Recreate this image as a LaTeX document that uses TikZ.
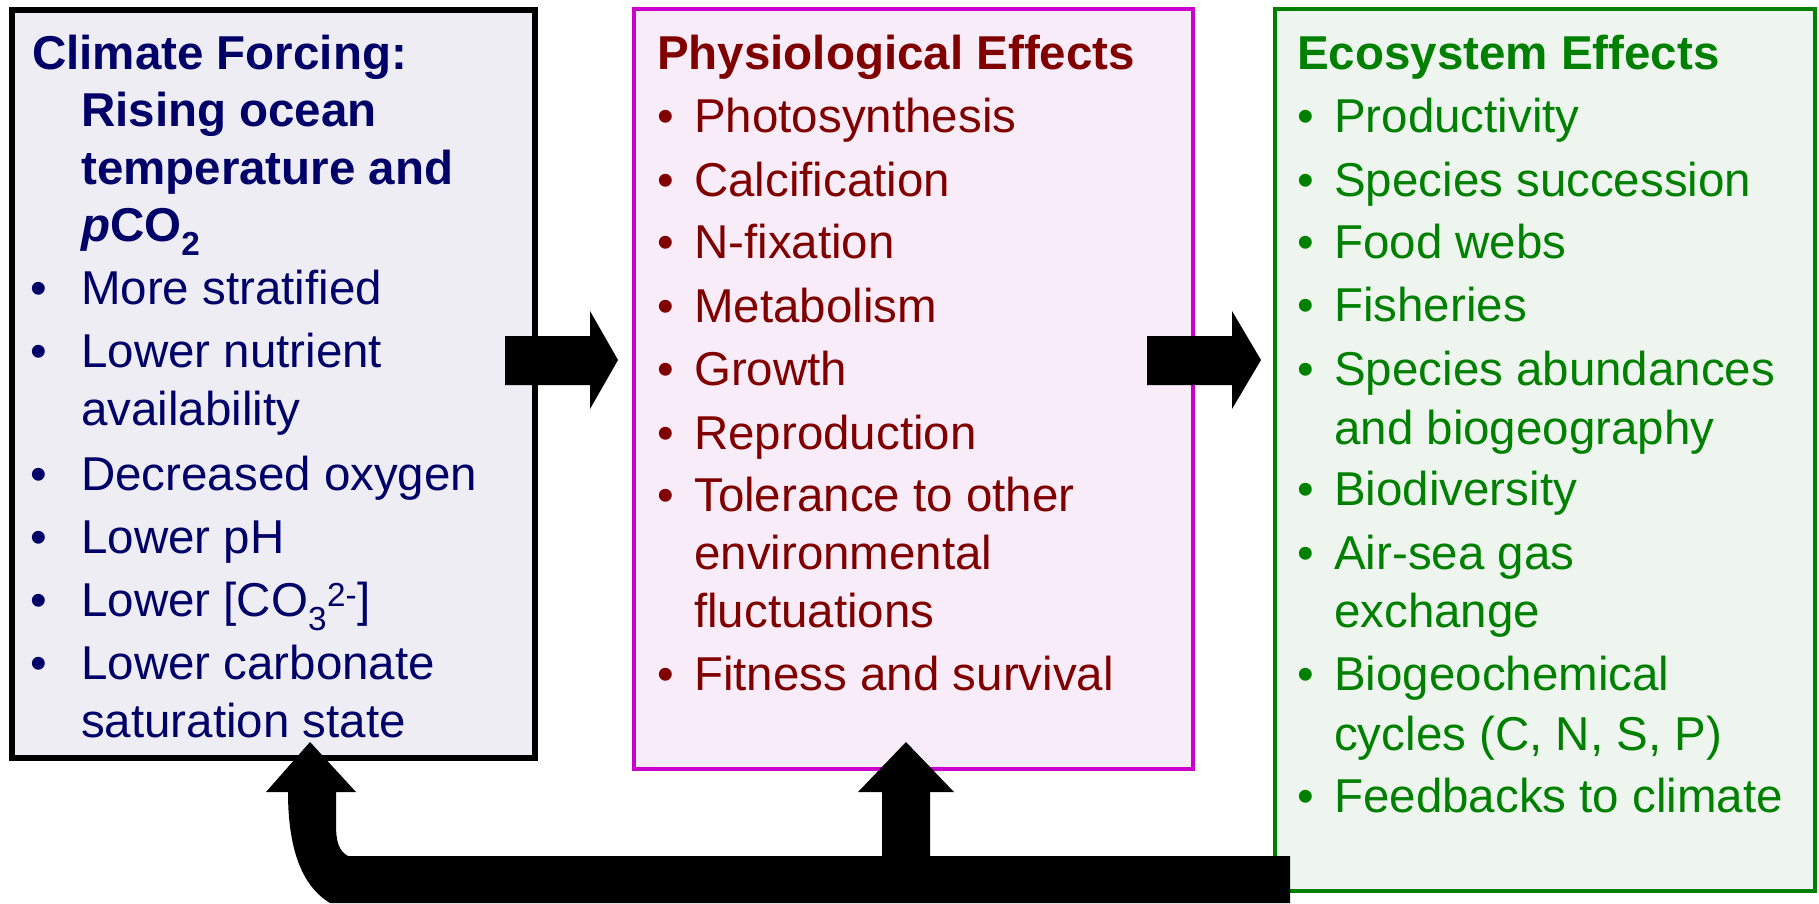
\documentclass[tikz,border=0pt]{standalone}
\usepackage{fontspec}
\setmainfont{Liberation Sans}
\definecolor{navy}{RGB}{0,0,105}
\definecolor{lfill}{RGB}{238,237,244}
\definecolor{dred}{RGB}{128,0,0}
\definecolor{mag}{RGB}{204,0,204}
\definecolor{mfill}{RGB}{249,236,249}
\definecolor{dgreen}{RGB}{0,128,0}
\definecolor{gfill}{RGB}{238,245,238}
\tikzset{
  panel/.style={anchor=north west, inner sep=0pt, outer sep=0pt},
  boxL/.style={panel, draw=black, line width=5.5pt, fill=lfill},
  boxM/.style={panel, draw=mag, line width=4pt, fill=mfill},
  boxR/.style={panel, draw=dgreen, line width=4pt, fill=gfill},
  tl/.style={anchor=base west, inner sep=0pt, font=\fontsize{47.5}{57}\selectfont},
  ltxt/.style={tl, text=navy},
  mtxt/.style={tl, text=dred},
  rtxt/.style={tl, text=dgreen},
  blockarrow/.style={fill=black, draw=none}
}
\begin{document}
\begin{tikzpicture}[x=1pt,y=-1pt]
\useasboundingbox (0,0) rectangle (1819,903);
\fill[white] (0,0) rectangle (1819,903);

% panels
\node[boxL, minimum width=523pt, minimum height=748pt] (climate) at (11.75,9.75) {};
\node[boxM, minimum width=559pt, minimum height=760pt] (physio) at (634,9) {};
\node[boxR, minimum width=540pt, minimum height=882pt] (eco) at (1275,9) {};

% left panel text
\node[ltxt, font=\fontsize{47.5}{57}\selectfont\bfseries] (l1) at (32,69) {Climate Forcing:};
\node[ltxt, font=\fontsize{47.5}{57}\selectfont\bfseries] (l2) at (81,126) {Rising ocean};
\node[ltxt, font=\fontsize{47.5}{57}\selectfont\bfseries] (l3) at (81,184) {temperature and};
\node[ltxt, font=\fontsize{47.5}{57}\selectfont\bfseries] (l4) at (81,241) {\textit{p}CO\textsubscript{2}};
\foreach \y/\t [count=\i] in {304/More stratified, 367/Lower nutrient, 490/Decreased oxygen, 553/Lower pH, 679/Lower carbonate}{
  \node[ltxt] (lb\i) at (30,\y) {•};
  \node[ltxt] (lt\i) at (81,\y) {\t};
}
\node[ltxt] (lb6) at (30,616) {•};
\node[ltxt] (lt6) at (81,616) {Lower [CO\textsubscript{3}\textsuperscript{2-}]};
\node[ltxt] (lw1) at (81,425) {availability};
\node[ltxt] (lw2) at (81,737) {saturation state};

% middle panel text
\node[mtxt, font=\fontsize{47.5}{57}\selectfont\bfseries] (m0) at (657,69) {Physiological Effects};
\foreach \y/\t [count=\i] in {132/Photosynthesis, 196/Calcification, 258/N-fixation, 322/Metabolism, 385/Growth, 449/Reproduction, 511/Tolerance to other, 690/Fitness and survival}{
  \node[mtxt] (mb\i) at (657,\y) {•};
  \node[mtxt] (mt\i) at (694,\y) {\t};
}
\node[mtxt] (mw1) at (694,569) {environmental};
\node[mtxt] (mw2) at (694,627) {fluctuations};

% right panel text
\node[rtxt, font=\fontsize{47.5}{57}\selectfont\bfseries] (r0) at (1297,69) {Ecosystem Effects};
\foreach \y/\t [count=\i] in {132/Productivity, 196/Species succession, 258/Food webs, 321/Fisheries, 385/Species abundances, 505/Biodiversity, 569/Air-sea gas, 690/Biogeochemical, 812/Feedbacks to climate}{
  \node[rtxt] (rb\i) at (1297,\y) {•};
  \node[rtxt] (rt\i) at (1334,\y) {\t};
}
\node[rtxt] (rw1) at (1334,444) {and biogeography};
\node[rtxt] (rw2) at (1334,627) {exchange};
\node[rtxt] (rw3) at (1334,750) {cycles (C, N, S, P)};

% block arrows
\fill[blockarrow] (505,336) -- (590,336) -- (590,311) -- (618,360) -- (590,409) -- (590,385) -- (505,385) -- cycle;
\fill[blockarrow] (1147,336) -- (1232,336) -- (1232,311) -- (1261,360) -- (1232,409) -- (1232,385) -- (1147,385) -- cycle;

% feedback arrow
\fill[blockarrow] (1290,903) -- (1290,856) -- (930,856) -- (930,792) -- (954,792) -- (906,742) -- (858,792) -- (882,792) -- (882,856)
  -- (348,856) .. controls (339,851) and (336,842) .. (336,825) -- (336,792) -- (356,792) -- (310,742) -- (266,792) -- (288,792)
  .. controls (288,845) and (300,885) .. (330,903) -- cycle;
\end{tikzpicture}
\end{document}
